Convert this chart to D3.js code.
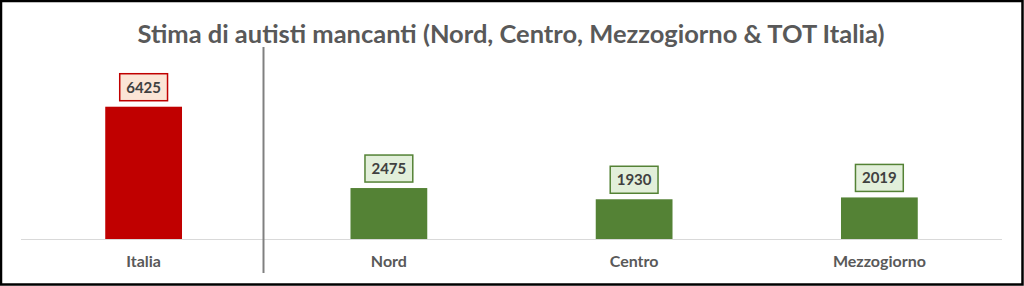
<!DOCTYPE html>
<html>
<head>
<meta charset="utf-8">
<script src="https://cdn.jsdelivr.net/npm/d3@7"></script>
<style>
  html, body { margin: 0; padding: 0; background: #fff; }
  svg { display: block; font-family: Lato, "Open Sans", sans-serif; }
</style>
</head>
<body>
<div id="chart"></div>
<script>
// chart data
const categories = ["Italia", "Nord", "Centro", "Mezzogiorno"];
const values = [6425, 2475, 1930, 2019];
const title = "Stima di autisti mancanti (Nord, Centro, Mezzogiorno & TOT Italia)";

const W = 1024, H = 286;
const baseline = 239;

const svg = d3.select('#chart').append('svg')
  .attr('width', W)
  .attr('height', H);

// white page with black frame
svg.append('rect')
  .attr('x', 1).attr('y', 1)
  .attr('width', W - 2.5).attr('height', H - 2.5)
  .attr('fill', '#fff')
  .attr('stroke', '#000')
  .attr('stroke-width', 2.5);

const x = d3.scaleBand()
  .domain(categories)
  .range([21, 1002])
  .paddingInner(0.687)
  .paddingOuter(0.3435);

const y = d3.scaleLinear()
  .domain([0, 9180])
  .range([baseline, 50]);

// title, fit to the reference width
const titleText = svg.append('text')
  .attr('x', 511)
  .attr('y', 43)
  .attr('text-anchor', 'middle')
  .style('font-size', '24px')
  .style('font-weight', 700)
  .style('fill', '#595959')
  .text(title);
const tw = titleText.node().getComputedTextLength();
titleText.style('font-size', (24 * 747 / tw).toFixed(2) + 'px');

// category axis line
svg.append('line')
  .attr('x1', 21).attr('x2', 1002)
  .attr('y1', baseline + 0.5).attr('y2', baseline + 0.5)
  .attr('stroke', '#d9d9d9')
  .attr('stroke-width', 1);

// bars
const isTotal = (d, i) => i === 0;
svg.selectAll('rect.bar')
  .data(values)
  .join('rect')
  .attr('class', 'bar')
  .attr('x', (d, i) => x(categories[i]))
  .attr('width', x.bandwidth())
  .attr('y', d => y(d))
  .attr('height', d => y(0) - y(d))
  .attr('fill', (d, i) => isTotal(d, i) ? '#c00000' : '#548235');

// value labels in boxes
const labels = svg.selectAll('g.lbl')
  .data(values)
  .join('g')
  .attr('class', 'lbl')
  .attr('transform', (d, i) => `translate(${x(categories[i]) + x.bandwidth() / 2}, ${y(d) - 5.5 - 14})`);

labels.each(function(d, i) {
  const g = d3.select(this);
  const t = g.append('text')
    .attr('text-anchor', 'middle')
    .attr('dy', '0.36em')
    .style('font-size', '15px')
    .style('font-weight', 700)
    .style('fill', '#404040')
    .text(d);
  const w = t.node().getComputedTextLength() + 13;
  g.insert('rect', 'text')
    .attr('x', -w / 2).attr('y', -13.5)
    .attr('width', w).attr('height', 27)
    .attr('fill', isTotal(d, i) ? '#fbe5d6' : '#e2efda')
    .attr('stroke', isTotal(d, i) ? '#c00000' : '#548235')
    .attr('stroke-width', 1.5);
});

// category names
svg.selectAll('text.cat')
  .data(categories)
  .join('text')
  .attr('class', 'cat')
  .attr('x', d => x(d) + x.bandwidth() / 2)
  .attr('y', 267)
  .attr('text-anchor', 'middle')
  .style('font-size', '16px')
  .style('font-weight', 700)
  .style('fill', '#595959')
  .text(d => d);

// separator between total and regions
svg.append('line')
  .attr('x1', 263.5).attr('x2', 263.5)
  .attr('y1', 47).attr('y2', 273)
  .attr('stroke', '#808080')
  .attr('stroke-width', 2);
</script>
</body>
</html>
